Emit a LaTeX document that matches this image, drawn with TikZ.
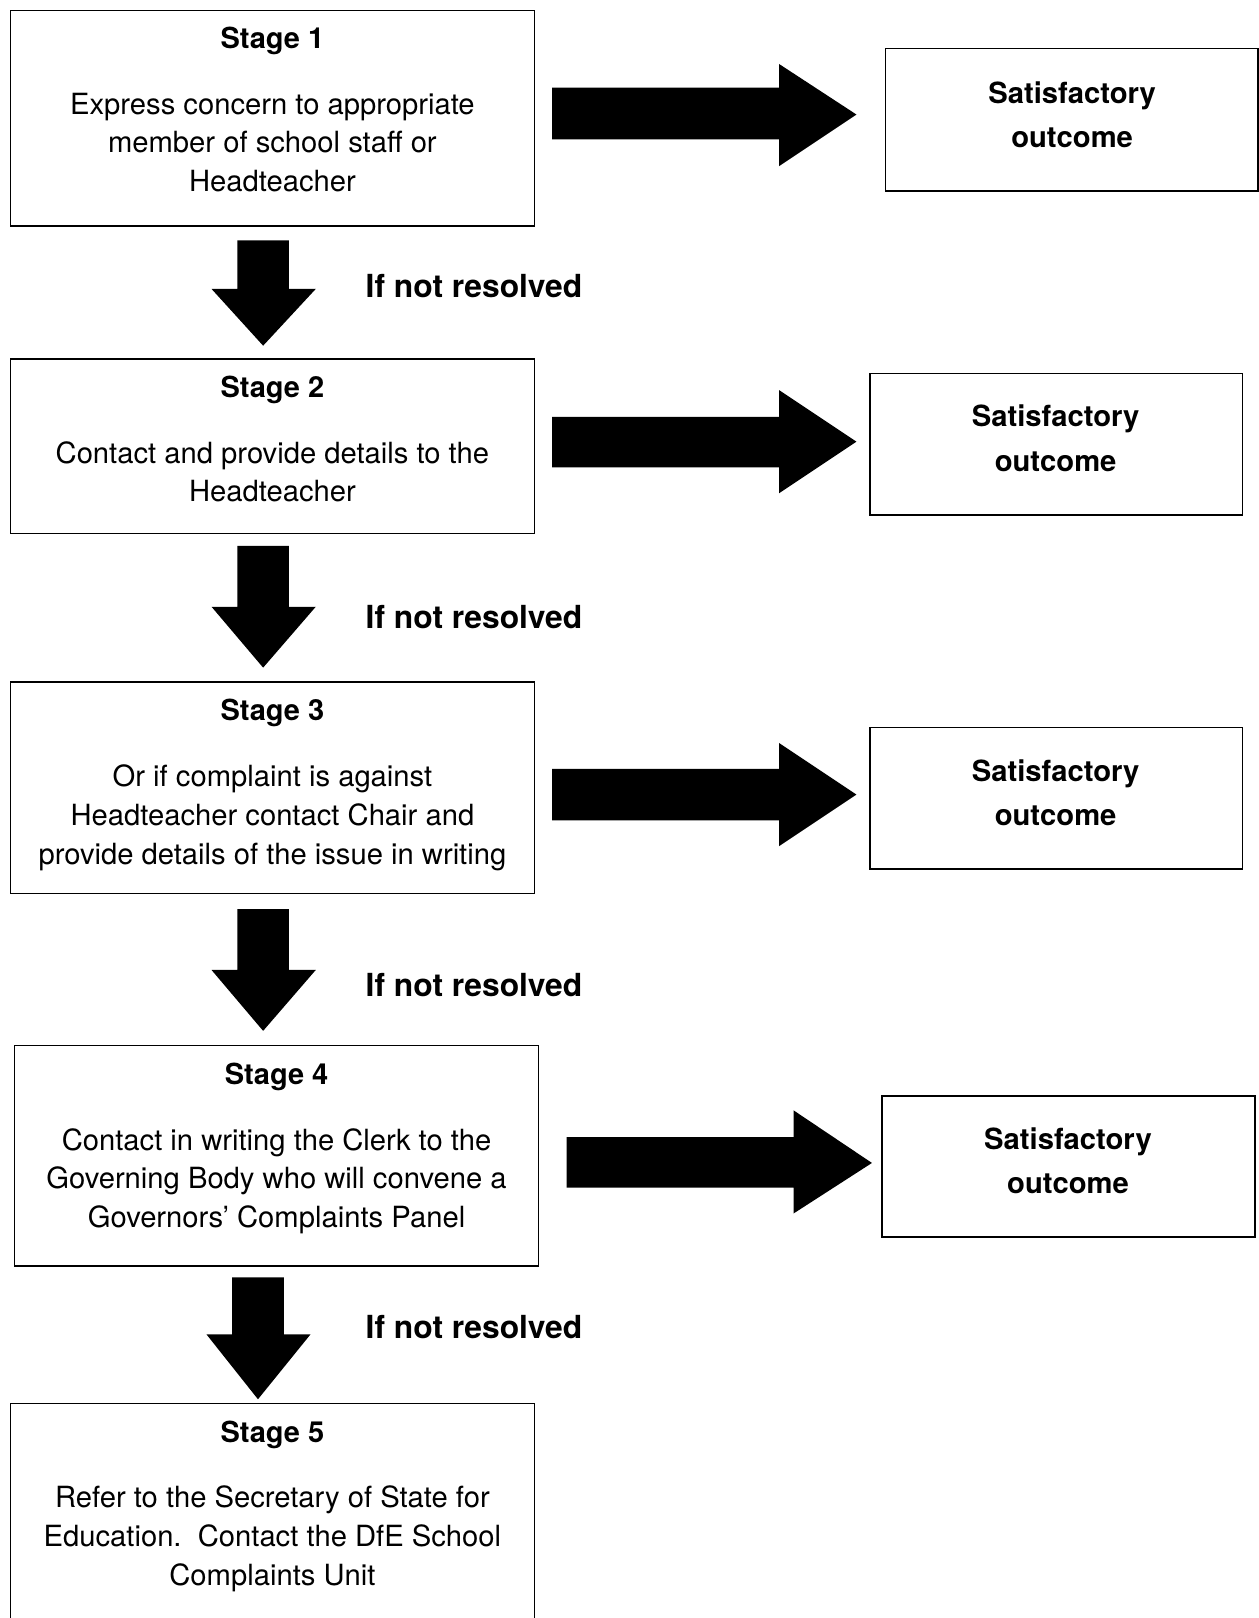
\documentclass[tikz,border=0pt]{standalone}
\usepackage{fontspec}
\setmainfont{TeX Gyre Heros}
\usetikzlibrary{fit}
\begin{document}
\begin{tikzpicture}[x=0.516pt,y=-0.516pt,
  box/.style={draw, line width=0.8pt, inner sep=0pt},
  body/.style={anchor=base, inner sep=0pt, font=\fontsize{14.6}{17}\selectfont},
  ttl/.style={anchor=base, inner sep=0pt, font=\fontsize{14.5}{17}\selectfont\bfseries},
  sat/.style={anchor=base, inner sep=0pt, font=\fontsize{14.6}{17}\selectfont\bfseries},
  ifnot/.style={anchor=base west, inner sep=0pt, font=\fontsize{15.9}{18}\selectfont\bfseries},
  blk/.style={fill=black}]
\useasboundingbox (0,0) rectangle (1220,1568);

% ---- boxes
\node[box, fit={(10,10) (518,219)}] (s1) {};
\node[box, fit={(858,47) (1219,185)}] (o1) {};
\node[box, fit={(10,348) (518,517)}] (s2) {};
\node[box, fit={(843,362) (1204,499)}] (o2) {};
\node[box, fit={(10,661) (518,866)}] (s3) {};
\node[box, fit={(843,705) (1204,842)}] (o3) {};
\node[box, fit={(14,1013) (522,1227)}] (s4) {};
\node[box, fit={(855,1062) (1216,1199)}] (o4) {};
\coordinate (s5bl) at (10,1572);
\coordinate (s5tl) at (10,1360);
\coordinate (s5tr) at (518,1360);
\coordinate (s5br) at (518,1572);
\draw[line width=0.8pt] (s5bl) -- (s5tl) -- (s5tr) -- (s5br);

% ---- stage texts
\node[ttl] (t1) at (264,47) {Stage 1};
\node[body] (t1a) at (264,111) {Express concern to appropriate};
\node[body] (t1b) at (264,148) {member of school staff or};
\node[body] (t1c) at (264,186) {Headteacher};

\node[ttl] (t2) at (264,385) {Stage 2};
\node[body] (t2a) at (264,449) {Contact and provide details to the};
\node[body] (t2b) at (264,486) {Headteacher};

\node[ttl] (t3) at (264,698) {Stage 3};
\node[body] (t3a) at (264,762) {Or if complaint is against};
\node[body] (t3b) at (264,800) {Headteacher contact Chair and};
\node[body] (t3c) at (264,838) {provide details of the issue in writing};

\node[ttl] (t4) at (268,1051) {Stage 4};
\node[body] (t4a) at (268,1115) {Contact in writing the Clerk to the};
\node[body] (t4b) at (268,1152) {Governing Body who will convene a};
\node[body] (t4c) at (268,1190) {Governors’ Complaints Panel};

\node[ttl] (t5) at (264,1398) {Stage 5};
\node[body] (t5a) at (264,1461) {Refer to the Secretary of State for};
\node[body] (t5b) at (264,1499) {Education.\ \ Contact the DfE School};
\node[body] (t5c) at (264,1536) {Complaints Unit};

% ---- outcome texts
\node[sat] (u1a) at (1039,100) {Satisfactory};
\node[sat] (u1b) at (1039,143) {outcome};
\node[sat] (u2a) at (1023,413) {Satisfactory};
\node[sat] (u2b) at (1023,457) {outcome};
\node[sat] (u3a) at (1023,757) {Satisfactory};
\node[sat] (u3b) at (1023,800) {outcome};
\node[sat] (u4a) at (1035,1114) {Satisfactory};
\node[sat] (u4b) at (1035,1157) {outcome};

% ---- if not resolved
\node[ifnot] (n1) at (354,288) {If not resolved};
\node[ifnot] (n2) at (354,609) {If not resolved};
\node[ifnot] (n3) at (354,966) {If not resolved};
\node[ifnot] (n4) at (354,1297) {If not resolved};

% ---- right block arrows
\fill[blk] (535,85) -- (755,85) -- (755,62) -- (830,111) -- (755,161) -- (755,135) -- (535,135) -- cycle;
\fill[blk] (535,404) -- (755,404) -- (755,378) -- (830,428) -- (755,478) -- (755,453) -- (535,453) -- cycle;
\fill[blk] (535,745) -- (755,745) -- (755,720) -- (830,770) -- (755,820) -- (755,795) -- (535,795) -- cycle;
\fill[blk] (549,1102) -- (769,1102) -- (769,1076) -- (845,1127) -- (769,1176) -- (769,1151) -- (549,1151) -- cycle;

% ---- down block arrows
\fill[blk] (230,233) -- (280,233) -- (280,280) -- (306,280) -- (255,335) -- (205,280) -- (230,280) -- cycle;
\fill[blk] (230,529) -- (280,529) -- (280,588) -- (306,588) -- (255,647) -- (205,588) -- (230,588) -- cycle;
\fill[blk] (230,881) -- (280,881) -- (280,940) -- (306,940) -- (255,999) -- (205,940) -- (230,940) -- cycle;
\fill[blk] (225,1238) -- (275,1238) -- (275,1293) -- (301,1293) -- (250,1356) -- (200,1293) -- (225,1293) -- cycle;
\end{tikzpicture}
\end{document}
